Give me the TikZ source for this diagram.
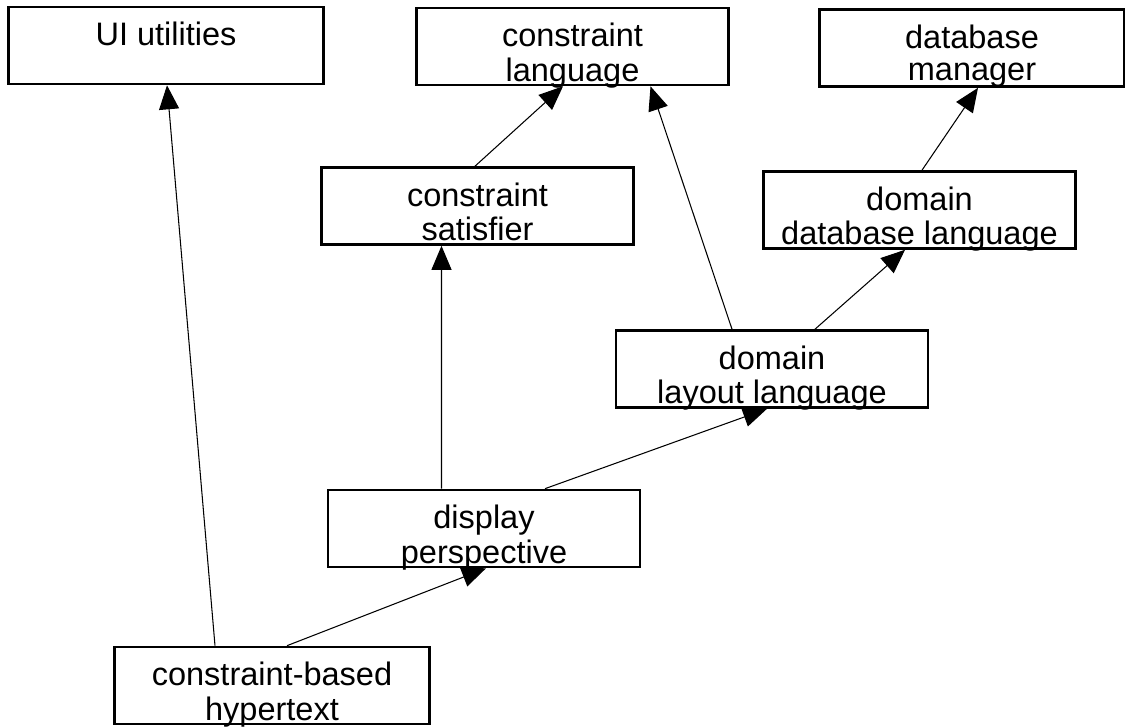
\documentclass[tikz,border=0pt]{standalone}
\usepackage{fontspec}
\setmainfont{Liberation Sans}
\usetikzlibrary{arrows.meta}

% texto de un módulo: dos líneas, alineado arriba
\newcommand{\modtext}[2]{\parbox[c][1.54cm][t]{6.1cm}{\centering\vspace{0.30cm}\strut#1\\\strut#2}}

\begin{document}
\begin{tikzpicture}[
    font=\fontsize{18.5}{18.2}\selectfont,
    module/.style={draw, line width=1.5pt, inner sep=0pt,
        minimum width=6.24cm, minimum height=1.54cm},
    uses/.style={-{Triangle[length=0.48cm,width=0.4cm]}, line width=0.6pt}
]
    \useasboundingbox (0,0) rectangle (22.5,14.52);

    % Fila superior
    \node[module, minimum width=6.3cm] (ui) at (3.32,13.61) {\modtext{UI utilities}{}};
    \node[module] (clang) at (11.45,13.59) {\modtext{constraint}{language}};
    \node[module, minimum width=6.04cm] (dbm) at (19.44,13.56) {\modtext{database}{manager}};

    % Segunda fila
    \node[module] (csat) at (9.55,10.40) {\modtext{constraint}{satisfier}};
    \node[module] (ddl) at (18.39,10.32) {\modtext{domain}{database language}};

    % Capas intermedias
    \node[module] (dll) at (15.44,7.14) {\modtext{domain}{layout language}};
    \node[module] (dp) at (9.68,3.95) {\modtext{display}{perspective}};
    \node[module, minimum width=6.3cm] (cbh) at (5.44,0.81) {\modtext{constraint-based}{hypertext}};

    % Dependencias
    \draw[uses] ([xshift=-1.14cm]cbh.north) -- ([xshift=0.02cm]ui.south);
    \draw[uses] ([xshift=0.30cm]cbh.north) -- ([xshift=0.04cm]dp.south);
    \draw[uses] ([xshift=-0.85cm]dp.north) -- ([xshift=-0.72cm]csat.south);
    \draw[uses] ([xshift=1.22cm]dp.north) -- ([xshift=-0.10cm]dll.south);
    \draw[uses] ([xshift=-0.05cm]csat.north) -- ([xshift=-0.19cm]clang.south);
    \draw[uses] ([xshift=-0.80cm]dll.north) -- ([xshift=1.56cm]clang.south);
    \draw[uses] ([xshift=0.86cm]dll.north) -- ([xshift=-0.29cm]ddl.south);
    \draw[uses] ([xshift=0.05cm]ddl.north) -- ([xshift=0.12cm]dbm.south);
\end{tikzpicture}
\end{document}
